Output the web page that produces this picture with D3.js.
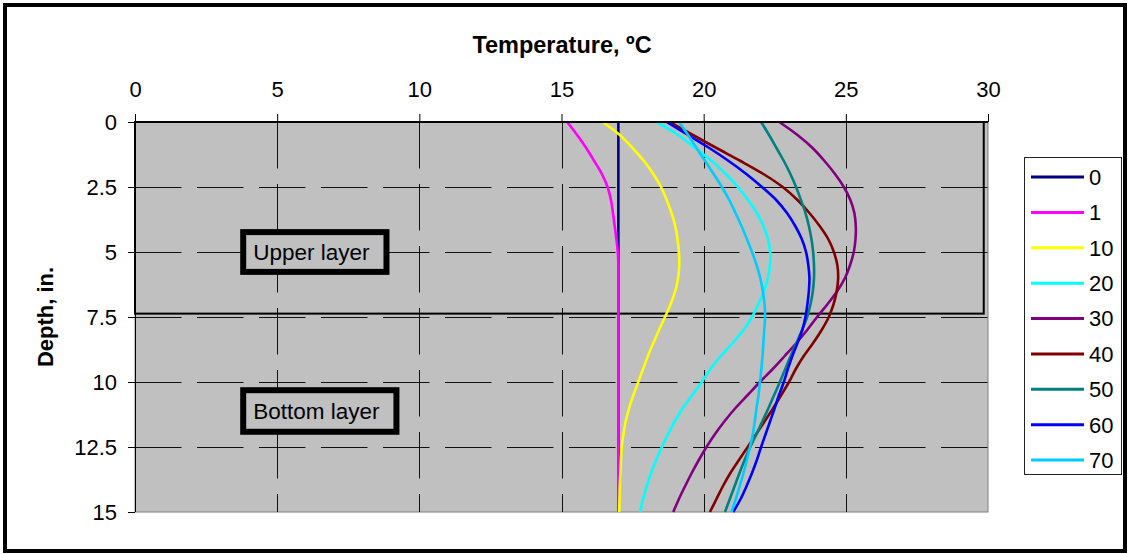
<!DOCTYPE html>
<html>
<head>
<meta charset="utf-8">
<script src="https://cdn.jsdelivr.net/npm/d3@7"></script>
<style>
  body { margin: 0; background: #fff; }
  svg text { font-family: "Liberation Sans", Arial, sans-serif; fill: #000; }
</style>
</head>
<body>
<svg id="chart" width="1130" height="554"></svg>
<script>
// depth in inches (y) and temperature in degrees C (x) for each series
var depths = [0, 0.5, 1, 1.5, 2, 2.5, 3, 3.5, 4, 4.5, 5, 5.5, 6, 6.5, 7, 7.5,
    8, 8.5, 9, 9.5, 10, 10.5, 11, 11.5, 12, 12.5, 13, 13.5, 14, 14.5, 15];

var temp0 = [17, 17, 17, 17, 17, 17, 17, 17, 17, 17, 17, 17, 17, 17, 17, 17,
    17, 17, 17, 17, 17, 17, 17, 17, 17, 17, 17, 17, 17, 17, 17];
var temp1 = [15.2, 15.55, 15.87, 16.15, 16.42, 16.62, 16.74, 16.81, 16.87, 16.93, 16.98, 17, 17, 17, 17, 17,
    17, 17, 17, 17, 17, 17, 17, 17, 17, 17, 17, 17, 17, 17, 17];
var temp10 = [16.45, 17.05, 17.5, 17.9, 18.23, 18.5, 18.7, 18.87, 19.0, 19.08, 19.13, 19.14, 19.1, 19.0, 18.84, 18.64,
    18.43, 18.23, 18.04, 17.87, 17.7, 17.53, 17.38, 17.26, 17.18, 17.12, 17.09, 17.07, 17.05, 17.04, 17.03];
var temp20 = [18.35, 19.1, 19.7, 20.28, 20.78, 21.2, 21.56, 21.87, 22.1, 22.26, 22.34, 22.33, 22.26, 22.12, 21.93, 21.7,
    21.4, 21.02, 20.6, 20.24, 19.93, 19.6, 19.27, 18.99, 18.75, 18.53, 18.33, 18.15, 18.0, 17.87, 17.76];
var temp30 = [22.66, 23.3, 23.83, 24.25, 24.62, 24.93, 25.16, 25.3, 25.35, 25.34, 25.28, 25.15, 24.97, 24.7, 24.36, 23.99,
    23.64, 23.26, 22.85, 22.43, 21.98, 21.55, 21.12, 20.74, 20.4, 20.1, 19.83, 19.58, 19.35, 19.13, 18.93];
var temp40 = [18.8, 19.62, 20.45, 21.3, 22.1, 22.78, 23.3, 23.72, 24.08, 24.38, 24.58, 24.7, 24.73, 24.68, 24.57, 24.4,
    24.15, 23.85, 23.52, 23.24, 23.0, 22.73, 22.45, 22.15, 21.85, 21.55, 21.24, 20.94, 20.68, 20.45, 20.22];
var temp50 = [22.02, 22.3, 22.56, 22.82, 23.05, 23.25, 23.42, 23.58, 23.7, 23.79, 23.85, 23.88, 23.88, 23.84, 23.76, 23.64,
    23.46, 23.26, 23.06, 22.87, 22.68, 22.48, 22.28, 22.07, 21.86, 21.64, 21.44, 21.26, 21.09, 20.92, 20.75];
var temp60 = [18.7, 19.45, 20.2, 20.88, 21.5, 22.05, 22.55, 22.93, 23.22, 23.45, 23.6, 23.68, 23.72, 23.7, 23.65, 23.58,
    23.47, 23.3, 23.12, 22.96, 22.82, 22.65, 22.5, 22.34, 22.18, 22.02, 21.87, 21.7, 21.51, 21.3, 21.04];
var temp70 = [19.14, 19.45, 19.75, 20.05, 20.35, 20.64, 20.9, 21.12, 21.33, 21.52, 21.7, 21.86, 21.99, 22.08, 22.14, 22.16,
    22.13, 22.1, 22.07, 22.03, 21.98, 21.93, 21.86, 21.8, 21.73, 21.63, 21.52, 21.4, 21.27, 21.13, 20.98];

var seriesNames = ["0", "1", "10", "20", "30", "40", "50", "60", "70"];
var seriesTemps = [temp0, temp1, temp10, temp20, temp30, temp40, temp50, temp60, temp70];
var seriesColors = ["#000080", "#FF00FF", "#FFFF00", "#00FFFF", "#800080", "#800000", "#008080", "#0000FF", "#00CCFF"];

var xTicks = [0, 5, 10, 15, 20, 25, 30];
var yTicks = [0, 2.5, 5, 7.5, 10, 12.5, 15];

var margin = {top: 122, right: 142, bottom: 42, left: 135};
var width = 1130, height = 554;
var w = width - margin.left - margin.right;
var h = height - margin.top - margin.bottom;

var svg = d3.select("#chart");

// outer chart frame
svg.append("rect")
    .attr("x", 5).attr("y", 5)
    .attr("width", 1120).attr("height", 546)
    .attr("fill", "#fff")
    .attr("stroke", "#000")
    .attr("stroke-width", 4);

var g = svg.append("g")
    .attr("transform", "translate(" + margin.left + "," + margin.top + ")");

var xScale = d3.scaleLinear().domain([0, 30]).range([0, w]);
var yScale = d3.scaleLinear().domain([0, 15]).range([0, h]);

// plot area
g.append("rect")
    .attr("width", w).attr("height", h)
    .attr("fill", "#C0C0C0")
    .attr("stroke", "#808080")
    .attr("stroke-width", 1);

// dashed gridlines
g.selectAll(".vgrid")
    .data(xTicks.filter(function (d) { return d > 0 && d < 30; }))
    .enter().append("line")
    .attr("class", "vgrid")
    .attr("x1", function (d) { return Math.round(xScale(d)) + 0.5; })
    .attr("x2", function (d) { return Math.round(xScale(d)) + 0.5; })
    .attr("y1", 0).attr("y2", h)
    .attr("stroke", "#111")
    .attr("stroke-width", 1)
    .attr("stroke-dasharray", "46.5,15.5");

g.selectAll(".hgrid")
    .data(yTicks.filter(function (d) { return d > 0 && d < 15; }))
    .enter().append("line")
    .attr("class", "hgrid")
    .attr("y1", function (d) { return Math.round(yScale(d)) + 0.5; })
    .attr("y2", function (d) { return Math.round(yScale(d)) + 0.5; })
    .attr("x1", 0).attr("x2", w)
    .attr("stroke", "#111")
    .attr("stroke-width", 1)
    .attr("stroke-dasharray", "46.5,15.5");

// upper layer outline
g.append("rect")
    .attr("x", xScale(0))
    .attr("y", yScale(0))
    .attr("width", xScale(29.85) - xScale(0))
    .attr("height", yScale(7.37) - yScale(0))
    .attr("fill", "none")
    .attr("stroke", "#000")
    .attr("stroke-width", 2);

// curves
var line = d3.line()
    .x(function (d) { return xScale(d.t); })
    .y(function (d) { return yScale(d.z); })
    .curve(d3.curveCatmullRom.alpha(0.5));

seriesTemps.forEach(function (temps, i) {
    var pts = depths.map(function (z, j) { return {z: z, t: temps[j]}; });
    g.append("path")
        .datum(pts)
        .attr("d", line)
        .attr("fill", "none")
        .attr("stroke", seriesColors[i])
        .attr("stroke-width", 2.6);
});

// layer labels
var boxes = [
    {label: "Upper layer", x0: 3.7, x1: 8.95, z0: 4.12, z1: 5.88},
    {label: "Bottom layer", x0: 3.7, x1: 9.3, z0: 10.2, z1: 12.03}
];
boxes.forEach(function (b) {
    g.append("rect")
        .attr("x", xScale(b.x0) + 3)
        .attr("y", yScale(b.z0) + 3)
        .attr("width", xScale(b.x1) - xScale(b.x0) - 6)
        .attr("height", yScale(b.z1) - yScale(b.z0) - 6)
        .attr("fill", "#C0C0C0")
        .attr("stroke", "#000")
        .attr("stroke-width", 6);
    g.append("text")
        .attr("x", xScale(b.x0) + 13)
        .attr("y", (yScale(b.z0) + yScale(b.z1)) / 2)
        .attr("dy", "0.35em")
        .style("font-size", "22.5px")
        .text(b.label);
});

// axes
var xAxis = d3.axisTop(xScale).tickValues(xTicks).tickSize(8).tickPadding(17).tickFormat(d3.format("d"));
var yAxis = d3.axisLeft(yScale).tickValues(yTicks).tickSize(7).tickPadding(11).tickFormat(function (d) { return d; });

var gx = g.append("g").call(xAxis);
var gy = g.append("g").call(yAxis);
[gx, gy].forEach(function (a) {
    a.select(".domain").remove();
    a.selectAll(".tick line").attr("stroke", "#000");
    a.selectAll(".tick text")
        .style("font-size", "22px")
        .style("font-family", "'Liberation Sans', Arial, sans-serif")
        .attr("fill", "#000");
});

g.append("line")
    .attr("x1", 0).attr("x2", w).attr("y1", 0).attr("y2", 0)
    .attr("stroke", "#000").attr("stroke-width", 2);
g.append("line")
    .attr("x1", 0.5).attr("x2", 0.5).attr("y1", 0).attr("y2", h)
    .attr("stroke", "#000").attr("stroke-width", 1);

// axis titles
svg.append("text")
    .attr("x", 562)
    .attr("y", 53)
    .attr("text-anchor", "middle")
    .style("font-size", "23.5px")
    .style("font-weight", "bold")
    .text("Temperature, \u00BAC");

svg.append("text")
    .attr("transform", "translate(53," + (margin.top + h / 2) + ") rotate(-90)")
    .attr("text-anchor", "middle")
    .style("font-size", "22px")
    .style("font-weight", "bold")
    .text("Depth, in.");

// legend
var legendY = d3.scalePoint().domain(seriesNames).range([177, 460]);
svg.append("rect")
    .attr("x", 1024.5).attr("y", 157.5)
    .attr("width", 97).attr("height", 317)
    .attr("fill", "#fff")
    .attr("stroke", "#222")
    .attr("stroke-width", 1);

var legend = svg.append("g").selectAll("g")
    .data(seriesNames)
    .enter().append("g")
    .attr("transform", function (d) { return "translate(0," + legendY(d) + ")"; });

legend.append("line")
    .attr("x1", 1031).attr("x2", 1084)
    .attr("stroke", function (d, i) { return seriesColors[i]; })
    .attr("stroke-width", 3);

legend.append("text")
    .attr("x", 1089)
    .attr("dy", "0.36em")
    .style("font-size", "22px")
    .text(function (d) { return d; });
</script>
</body>
</html>
